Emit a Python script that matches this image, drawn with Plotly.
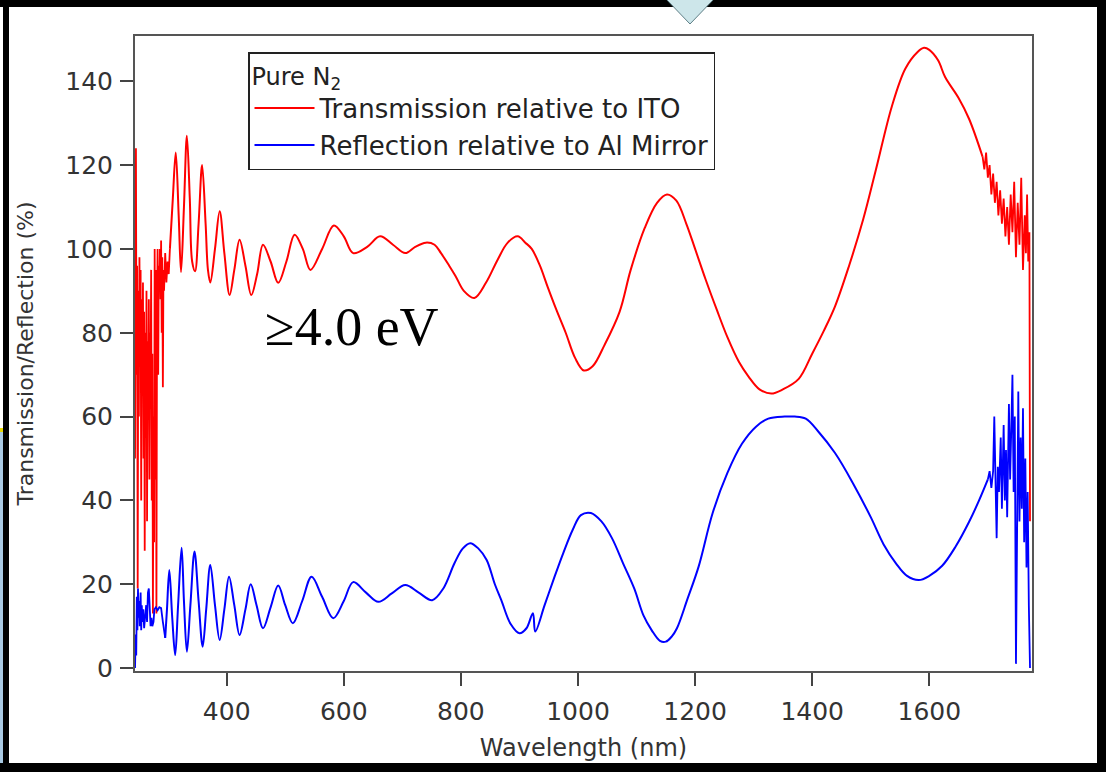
import plotly.graph_objects as go

# ---------------- data ----------------
# Transmission relative to ITO (red)
red_left_nm = [243.5, 244, 245, 246, 247, 248, 249, 250, 251, 252, 253, 254, 255, 256, 257, 258, 259, 260,
               261, 262, 263, 264, 265, 266, 267, 268, 269, 270, 271, 272, 273, 274, 275, 276, 277, 278,
               279, 280, 281, 282, 283, 284, 285, 286, 287, 288, 289, 290, 291, 292, 293, 295, 297, 299,
               301, 303]
red_left_val = [50, 85, 124, 70, 96, 19, 90, 60, 98, 75, 95, 40, 88, 65, 92, 50, 85, 28,
                80, 55, 90, 35, 78, 62, 88, 45, 80, 70, 95, 40, 75, 13, 60, 30, 100, 45,
                95, 13, 85, 100, 70, 96, 90, 100, 88, 102, 80, 98, 67, 95, 90, 99, 92, 97,
                94, 100]

red_mid_nm = [303, 308, 313, 318, 322, 327, 332, 337, 341, 346, 352, 358, 364, 368, 372, 380, 388, 396,
              405, 413, 422, 432, 442, 452, 462, 475, 488, 502, 516, 530, 543, 563, 583, 600, 616, 640,
              662, 684, 705, 722, 740, 755, 766, 780, 791, 805, 823, 843, 863, 880, 897, 910, 921, 935,
              948, 963, 979, 995, 1010, 1025, 1045, 1071, 1090, 1114, 1135, 1152, 1168, 1185, 1200, 1218,
              1237, 1255, 1275, 1291, 1310, 1330, 1350, 1377, 1400, 1420, 1439, 1463, 1487, 1509, 1536,
              1559, 1580, 1591, 1600, 1615, 1627, 1650, 1668, 1691]
red_mid_val = [100, 112, 123, 108, 94.5, 110, 127, 112, 97, 94.7, 106, 120, 106, 95, 92, 100, 109, 99,
               89, 95, 102.2, 96, 89, 94, 101, 97, 91.9, 97, 103.4, 100, 95, 100, 105.6, 103, 99, 100.5,
               103, 101, 99, 100.5, 101.5, 101, 99, 96, 93.5, 90, 88.3, 92, 97.5, 101.5, 103, 101.5, 100, 96,
               91, 85.5, 80, 74, 71, 72, 77, 85, 95, 105, 111, 113, 111.5, 106, 100, 92.7,
               85.5, 79, 73, 69.6, 66.5, 65.5, 66.5, 69, 75, 80.5, 86.3, 96, 107, 119, 134,
               143, 147, 148, 147.5, 145, 141, 136, 131, 122]

red_right_nm = [1691, 1694, 1697, 1700, 1703, 1706, 1709, 1712, 1715, 1718, 1721, 1724, 1727, 1730, 1733,
                1736, 1739, 1742, 1745, 1748, 1751, 1754, 1757, 1760, 1763, 1765, 1767, 1769, 1771, 1772]
red_right_val = [122, 119, 123, 117, 120, 113, 118, 111, 116, 108, 114, 106, 112, 103, 110,
                 101, 113, 104, 116, 98, 111, 101, 117, 95, 108, 99, 113, 97, 104, 35]

# Reflection relative to Al Mirror (blue)
blue_left_nm = [243.5, 244.5, 245.5, 246.5, 247.5, 248.5, 249.5, 250.5, 251.5, 253, 254, 255, 256, 257.5,
                259, 261, 262.5, 264, 265.5, 267, 268.5, 270, 271.5, 273, 275, 276.5, 279, 282, 285, 288,
                291, 295]
blue_left_val = [0, 8, 3, 17, 9, 19, 12, 16, 10, 18, 9, 15, 11, 14,
                 9.5, 12, 15, 11, 18, 19, 13, 10, 12, 10, 11, 14, 14.5, 13.8, 14.5, 14.3,
                 11, 7.2]

blue_mid_nm = [295, 298, 302, 307, 312, 317, 323, 327, 332, 338, 345, 352, 359, 365, 372, 380, 388, 396,
               404, 413, 422, 432, 441, 451, 462, 475, 488, 500, 513, 529, 545, 563, 582, 600, 616, 638,
               659, 682, 705, 728, 751, 770, 789, 803, 816, 830, 844, 858, 869, 885, 900, 912, 923, 927,
               943, 960, 975, 991, 1005, 1022, 1040, 1058, 1077, 1096, 1112, 1126, 1140, 1150, 1160, 1169,
               1187, 1206, 1230, 1255, 1280, 1304, 1325, 1353, 1370, 1389, 1410, 1439, 1470, 1500, 1522,
               1543, 1562, 1582, 1600, 1622, 1645, 1668, 1685, 1700]
blue_mid_val = [7.2, 14, 23.4, 12, 3.1, 15, 28.7, 16, 3.9, 15, 27.8, 16, 5.1, 14, 24.6, 15, 6.7, 14,
                21.8, 15, 7.9, 14, 20, 15, 9.5, 14.5, 19.7, 15, 10.7, 16, 21.8, 17, 11.9, 16, 20.5, 18,
                15.8, 17.8, 19.8, 18, 16.2, 19, 25, 28.5, 29.8, 28.5, 25.8, 20, 16.2, 10.5, 8.3, 9.5, 13.1, 8.7,
                15, 21.8, 27.5, 33, 36.5, 37, 35, 31, 25, 19, 12.5, 9, 6.5, 6.3, 7.5, 9.5,
                16.5, 24.2, 37, 46.5, 53.5, 57.6, 59.5, 60, 60, 59.5, 56.5, 51.3, 44, 36, 29.5,
                25, 22, 21, 22, 24.4, 29, 34.9, 40, 45]

blue_right_nm = [1700, 1703, 1706, 1709, 1711, 1713, 1715, 1717, 1719, 1722, 1724, 1727, 1729, 1731, 1733,
                 1736, 1738, 1740, 1742, 1744, 1746, 1748, 1750, 1752, 1754, 1756, 1758, 1760, 1762, 1764,
                 1766, 1768, 1770, 1772]
blue_right_val = [45, 47, 43, 47, 60, 40, 31, 48, 42, 55, 38, 58, 40, 52, 36,
                  63, 45, 57, 70, 42, 60, 1, 44, 66, 35, 55, 38, 62, 30, 50,
                  24, 42, 15, 0]

x_ticks = [400, 600, 800, 1000, 1200, 1400, 1600]
y_ticks = [0, 20, 40, 60, 80, 100, 120, 140]

series_names = ["Transmission relative to ITO", "Reflection relative to Al Mirror"]
legend_title = "Pure N<sub>2</sub>"
note_text = "≥4.0 eV"

# ---------------- figure ----------------
W, H = 1106, 772
L, R, T, B = 135, 1032, 36, 671  # plot-area pixel box


def px(xp):
    return (xp - L) / (R - L)


def py(yp):
    return (B - yp) / (B - T)


RED = "#ff0000"
BLUE = "#0000ff"

fig = go.Figure()
fig.add_trace(go.Scatter(x=red_left_nm, y=red_left_val, mode="lines", line=dict(color=RED, width=1.8),
                         legendgroup="t", showlegend=False, hoverinfo="skip"))
fig.add_trace(go.Scatter(x=red_mid_nm, y=red_mid_val, mode="lines", name=series_names[0],
                         line=dict(color=RED, width=2, shape="spline", smoothing=1.0), legendgroup="t"))
fig.add_trace(go.Scatter(x=red_right_nm, y=red_right_val, mode="lines", line=dict(color=RED, width=1.8),
                         legendgroup="t", showlegend=False, hoverinfo="skip"))
fig.add_trace(go.Scatter(x=blue_left_nm, y=blue_left_val, mode="lines", line=dict(color=BLUE, width=1.8),
                         legendgroup="r", showlegend=False, hoverinfo="skip"))
fig.add_trace(go.Scatter(x=blue_mid_nm, y=blue_mid_val, mode="lines", name=series_names[1],
                         line=dict(color=BLUE, width=2, shape="spline", smoothing=1.0), legendgroup="r"))
fig.add_trace(go.Scatter(x=blue_right_nm, y=blue_right_val, mode="lines", line=dict(color=BLUE, width=1.8),
                         legendgroup="r", showlegend=False, hoverinfo="skip"))

FONT = "DejaVu Sans"
TXT = "#333333"

fig.update_layout(
    width=W, height=H,
    margin=dict(l=L, r=W - R, t=T, b=H - B, pad=0),
    paper_bgcolor="white", plot_bgcolor="white",
    font=dict(family=FONT, size=24, color=TXT),
    showlegend=True,
    legend=dict(
        x=px(248), y=py(52), xanchor="left", yanchor="top",
        bgcolor="white", bordercolor="#222222", borderwidth=1.5,
        font=dict(family=FONT, size=26, color="#222222"),
        title=dict(text=legend_title, font=dict(family=FONT, size=24, color="#222222")),
        itemwidth=60, tracegroupgap=0,
    ),
    xaxis=dict(
        range=[243.4, 1775.4], tickvals=x_ticks, ticks="outside", ticklen=13, tickwidth=2,
        tickcolor="#444444", showline=True, mirror=True, linecolor="#555555", linewidth=2,
        showgrid=False, zeroline=False, tickfont=dict(family=FONT, size=25, color=TXT),
        ticklabelstandoff=4,
        title=dict(text="Wavelength (nm)", font=dict(family=FONT, size=24, color=TXT), standoff=14),
    ),
    yaxis=dict(
        range=[-0.7, 150.8], tickvals=y_ticks, ticks="outside", ticklen=13, tickwidth=2,
        tickcolor="#444444", showline=True, mirror=True, linecolor="#555555", linewidth=2,
        showgrid=False, zeroline=False, tickfont=dict(family=FONT, size=25, color=TXT),
        ticklabelstandoff=2,
        title=dict(text="Transmission/Reflection (%)", font=dict(family=FONT, size=22, color=TXT), standoff=26),
    ),
)

fig.add_annotation(x=px(352), y=py(327), xref="paper", yref="paper", text=note_text, showarrow=False,
                   xanchor="center", yanchor="middle",
                   font=dict(family="Liberation Serif", size=54, color="black"))

# slide frame around the chart
shapes = []
def rect(x0, y0, x1, y1, color):
    shapes.append(dict(type="rect", xref="paper", yref="paper", x0=px(x0), x1=px(x1), y0=py(y1), y1=py(y0),
                       fillcolor=color, line=dict(width=0), layer="above"))

rect(0, 432, 3, 772, "#a9c9e2")
rect(0, 428, 3, 432, "#e8d800")
rect(3, 0, 9, 772, "black")
rect(0, 0, 1106, 7, "black")
rect(0, 763, 1106, 772, "black")
rect(1097, 0, 1106, 772, "black")
shapes.append(dict(type="path", xref="paper", yref="paper",
                   path=f"M {px(666)} {py(-1)} L {px(714)} {py(-1)} L {px(690)} {py(24)} Z",
                   fillcolor="#cde6ea", line=dict(color="#5f7f86", width=1), layer="above"))
fig.update_layout(shapes=shapes)

fig.write_html("out.html", config={"displayModeBar": False},
               post_script="document.body.style.margin='0';document.body.style.overflow='hidden';")
